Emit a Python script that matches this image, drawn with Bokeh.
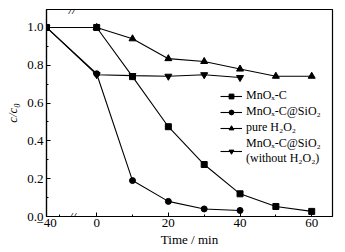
from bokeh.plotting import figure
from bokeh.models import FixedTicker, Legend, LegendItem, Label, Range1d
from bokeh.embed import file_html
from bokeh.resources import INLINE

# ---- data ----
time_mnox_c = [-40, 0, 10, 20, 30, 40, 50, 60]
c_mnox_c = [1.0, 1.0, 0.74, 0.475, 0.275, 0.12, 0.053, 0.027]

time_mnox_sio2 = [-40, 0, 10, 20, 30, 40]
c_mnox_sio2 = [1.0, 0.755, 0.19, 0.08, 0.04, 0.032]

time_pure_h2o2 = [0, 10, 20, 30, 40, 50, 60]
c_pure_h2o2 = [1.0, 0.94, 0.835, 0.82, 0.78, 0.742, 0.742]

time_no_h2o2 = [-40, 0, 10, 20, 30, 40]
c_no_h2o2 = [1.0, 0.75, 0.745, 0.742, 0.75, 0.735]

x_major_ticks = [-40, 0, 20, 40, 60]
x_minor_ticks = [-30, 10, 30, 50]
y_major_ticks = [0.0, 0.2, 0.4, 0.6, 0.8, 1.0]
y_minor_ticks = [0.1, 0.3, 0.5, 0.7, 0.9]

labels = ["MnOₓ-C", "MnOₓ-C@SiO₂", "pure H₂O₂", "MnOₓ-C@SiO₂\n(without H₂O₂)"]

# broken axis: negative times (dark adsorption) are compressed
NEG_SCALE = 0.35


def bx(t):
    return t if t >= 0 else t * NEG_SCALE


def bxs(ts):
    return [bx(t) for t in ts]


FONT = "'Liberation Serif', 'Times New Roman', serif"

p = figure(width=345, height=252, output_backend="svg", toolbar_location=None,
           x_range=Range1d(bx(-40), 65.8), y_range=Range1d(0, 1.095),
           min_border_left=46, min_border_right=13, min_border_top=9, min_border_bottom=36)
p.background_fill_color = "white"
p.border_fill_color = "white"
p.outline_line_color = "black"
p.outline_line_width = 1.2
p.grid.visible = False

p.xaxis.ticker = FixedTicker(ticks=bxs(x_major_ticks), minor_ticks=bxs(x_minor_ticks))
p.xaxis.major_label_overrides = {bx(t): ("\u221240" if t < 0 else str(t)) for t in x_major_ticks}
p.yaxis.ticker = FixedTicker(ticks=y_major_ticks, minor_ticks=y_minor_ticks)
p.yaxis.major_label_overrides = {v: f"{v:.1f}" for v in y_major_ticks}

for ax in (p.xaxis, p.yaxis):
    ax.axis_line_color = "black"
    ax.axis_line_width = 1.2
    ax.major_tick_in = 4
    ax.major_tick_out = 0
    ax.minor_tick_in = 2
    ax.minor_tick_out = 0
    ax.major_tick_line_color = "black"
    ax.minor_tick_line_color = "black"
    ax.major_label_text_font = FONT
    ax.major_label_text_font_size = "13px"
    ax.major_label_text_font_style = "normal"
    ax.major_label_text_color = "black"
    ax.axis_label_text_font = FONT
    ax.axis_label_text_font_size = "13px"
    ax.axis_label_text_color = "black"
    ax.axis_label_text_font_style = "normal"

p.xaxis.major_label_standoff = 2
p.yaxis.major_label_standoff = 3
p.xaxis.axis_label = "Time / min"
p.xaxis.axis_label_standoff = 2
p.yaxis.axis_label = "c/c₀"
p.yaxis.axis_label_text_font_style = "italic"
p.yaxis.axis_label_standoff = 4

series = [
    (time_mnox_c, c_mnox_c, "square", 6),
    (time_mnox_sio2, c_mnox_sio2, "circle", 6),
    (time_pure_h2o2, c_pure_h2o2, "triangle", 7),
    (time_no_h2o2, c_no_h2o2, "inverted_triangle", 7),
]

items = []
for (ts, cs, marker, size), lab in zip(series, labels):
    xs = bxs(ts)
    ln = p.line(xs, cs, line_color="black", line_width=1.1)
    sc = p.scatter(xs, cs, marker=marker, size=size, fill_color="black", line_color="black")
    items.append(LegendItem(label=lab, renderers=[ln, sc]))

legend = Legend(items=items, location=(174, 50))
legend.border_line_color = None
legend.background_fill_alpha = 0
legend.padding = 0
legend.margin = 0
legend.spacing = 1
legend.label_height = 12
legend.glyph_height = 12
legend.glyph_width = 22
legend.label_standoff = 4
legend.label_text_font = FONT
legend.label_text_font_size = "12px"
legend.label_text_line_height = 1.0
legend.label_text_color = "black"
p.add_layout(legend)

# axis break marks
brk = -6.8
for yv in (0, 1.095):
    p.add_layout(Label(x=brk, y=yv, text="//", text_align="center", text_baseline="middle",
                       text_font=FONT, text_font_size="13px", text_font_style="italic",
                       text_color="black"))

open("out.html", "w").write(file_html(p, INLINE))
